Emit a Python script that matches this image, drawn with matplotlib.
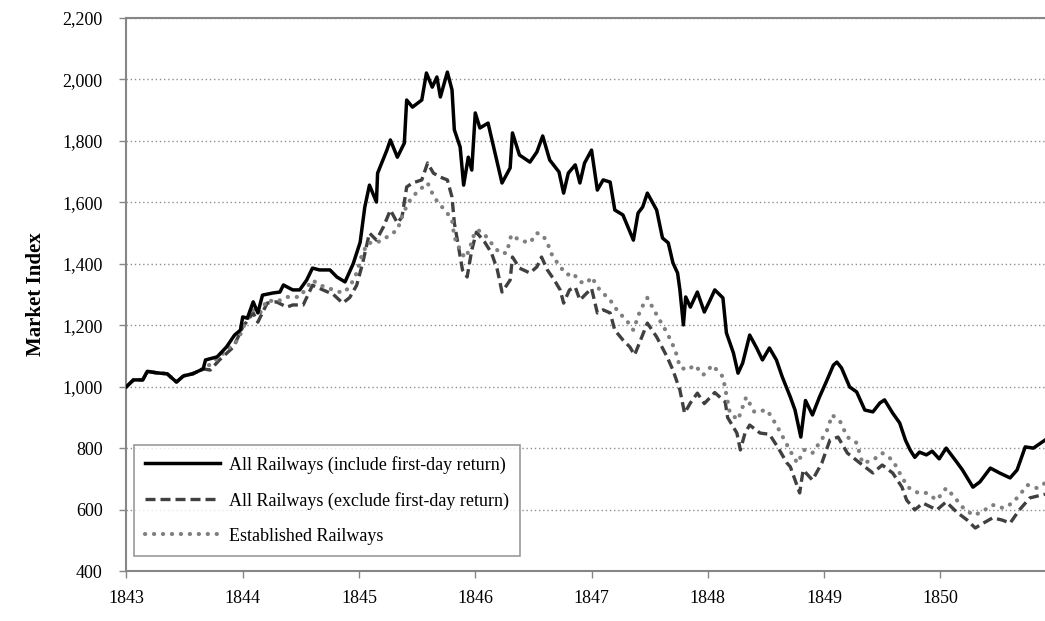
import matplotlib.pyplot as plt
from matplotlib.ticker import FuncFormatter

plt.rcParams['font.family'] = ['Liberation Serif', 'DejaVu Serif']

# common start (all three indices coincide at first)
start_years = [1843.00, 1843.06, 1843.14, 1843.18, 1843.26, 1843.35, 1843.43, 1843.49, 1843.57, 1843.66]
start_vals = [1000, 1022, 1022, 1050, 1045, 1042, 1015, 1035, 1042, 1058]

# All Railways (include first-day return)
incl_years = [1843.68, 1843.78, 1843.86, 1843.93, 1843.98, 1844.00, 1844.04, 1844.09, 1844.13, 1844.17,
              1844.26, 1844.32, 1844.35, 1844.43, 1844.49, 1844.55, 1844.60, 1844.66, 1844.75, 1844.81,
              1844.88, 1844.95, 1845.01, 1845.05, 1845.09, 1845.15, 1845.16, 1845.24, 1845.27, 1845.33,
              1845.39, 1845.41, 1845.46, 1845.54, 1845.58, 1845.63, 1845.67, 1845.70, 1845.76, 1845.80,
              1845.82, 1845.87, 1845.90, 1845.94, 1845.97, 1846.00, 1846.04, 1846.11, 1846.17, 1846.23,
              1846.30, 1846.32, 1846.38, 1846.47, 1846.53, 1846.58, 1846.64, 1846.72, 1846.76, 1846.80,
              1846.86, 1846.90, 1846.94, 1847.00, 1847.05, 1847.10, 1847.16, 1847.20, 1847.27, 1847.36,
              1847.40, 1847.44, 1847.48, 1847.56, 1847.61, 1847.66, 1847.70, 1847.74, 1847.76, 1847.79,
              1847.81, 1847.85, 1847.91, 1847.97, 1848.02, 1848.06, 1848.13, 1848.16, 1848.22, 1848.26,
              1848.30, 1848.36, 1848.42, 1848.47, 1848.53, 1848.59, 1848.64, 1848.71, 1848.75, 1848.80,
              1848.84, 1848.90, 1848.96, 1849.02, 1849.08, 1849.11, 1849.15, 1849.22, 1849.28, 1849.35,
              1849.42, 1849.48, 1849.52, 1849.59, 1849.65, 1849.70, 1849.74, 1849.78, 1849.82, 1849.88,
              1849.93, 1849.99, 1850.05, 1850.14, 1850.19, 1850.28, 1850.34, 1850.43, 1850.51, 1850.60,
              1850.66, 1850.73, 1850.80, 1850.90]
incl_vals = [1087, 1097, 1129, 1168, 1184, 1227, 1223, 1276, 1240, 1298,
             1305, 1308, 1331, 1315, 1315, 1347, 1386, 1380, 1380, 1357,
             1341, 1400, 1470, 1585, 1656, 1601, 1695, 1770, 1803, 1747,
             1793, 1933, 1910, 1933, 2021, 1975, 2008, 1943, 2024, 1966,
             1836, 1780, 1656, 1747, 1705, 1891, 1842, 1858, 1760, 1663,
             1712, 1826, 1754, 1731, 1764, 1816, 1738, 1699, 1630, 1695,
             1722, 1663, 1728, 1770, 1640, 1673, 1666, 1575, 1559, 1477,
             1565, 1585, 1630, 1575, 1484, 1468, 1403, 1370, 1315, 1201,
             1292, 1259, 1308, 1243, 1282, 1315, 1289, 1175, 1110, 1044,
             1077, 1168, 1126, 1087, 1126, 1087, 1032, 966, 924, 836,
             955, 908, 966, 1017, 1070, 1080, 1061, 999, 983, 924,
             918, 947, 957, 914, 882, 826, 794, 770, 787, 778,
             790, 765, 800, 755, 729, 673, 690, 735, 719, 703,
             729, 804, 800, 826]

# All Railways (exclude first-day return)
excl_years = [1843.72, 1843.80, 1843.92, 1844.00, 1844.09, 1844.13, 1844.21, 1844.29, 1844.38, 1844.43,
              1844.52, 1844.60, 1844.66, 1844.78, 1844.86, 1844.92, 1844.98, 1845.03, 1845.09, 1845.15,
              1845.21, 1845.27, 1845.33, 1845.37, 1845.41, 1845.46, 1845.54, 1845.59, 1845.64, 1845.70,
              1845.76, 1845.80, 1845.82, 1845.85, 1845.89, 1845.93, 1845.97, 1846.01, 1846.08, 1846.14,
              1846.19, 1846.23, 1846.30, 1846.32, 1846.38, 1846.47, 1846.53, 1846.57, 1846.62, 1846.68,
              1846.73, 1846.76, 1846.81, 1846.86, 1846.90, 1846.96, 1847.00, 1847.05, 1847.10, 1847.16,
              1847.20, 1847.27, 1847.33, 1847.37, 1847.42, 1847.48, 1847.56, 1847.65, 1847.70, 1847.76,
              1847.80, 1847.85, 1847.91, 1847.97, 1848.06, 1848.15, 1848.17, 1848.25, 1848.28, 1848.32,
              1848.36, 1848.45, 1848.53, 1848.60, 1848.68, 1848.71, 1848.79, 1848.82, 1848.90, 1848.98,
              1849.05, 1849.12, 1849.20, 1849.31, 1849.42, 1849.50, 1849.59, 1849.67, 1849.71, 1849.78,
              1849.85, 1849.97, 1850.05, 1850.14, 1850.23, 1850.30, 1850.37, 1850.45, 1850.53, 1850.60,
              1850.68, 1850.77, 1850.90]
excl_vals = [1054, 1087, 1129, 1194, 1240, 1210, 1272, 1276, 1259, 1266,
             1266, 1330, 1320, 1300, 1272, 1290, 1330, 1400, 1500, 1477,
             1520, 1575, 1533, 1552, 1650, 1663, 1673, 1728, 1695, 1682,
             1673, 1617, 1533, 1468, 1380, 1357, 1445, 1503, 1471, 1435,
             1380, 1308, 1347, 1422, 1386, 1370, 1390, 1422, 1380, 1347,
             1315, 1272, 1315, 1324, 1282, 1305, 1320, 1240, 1250, 1240,
             1184, 1152, 1129, 1103, 1150, 1207, 1162, 1097, 1054, 989,
             914, 947, 979, 945, 981, 950, 900, 849, 794, 849,
             875, 849, 845, 804, 752, 739, 654, 729, 696, 751,
             826, 836, 784, 751, 719, 745, 719, 673, 631, 599,
             621, 599, 625, 592, 566, 540, 556, 573, 566, 556,
             599, 638, 650]

# Established Railways
est_years = [1843.69, 1843.80, 1843.89, 1843.96, 1844.02, 1844.09, 1844.15, 1844.21, 1844.29, 1844.38,
             1844.49, 1844.60, 1844.66, 1844.78, 1844.86, 1844.92, 1844.98, 1845.03, 1845.08, 1845.15,
             1845.24, 1845.33, 1845.38, 1845.44, 1845.50, 1845.55, 1845.59, 1845.63, 1845.68, 1845.74,
             1845.80, 1845.82, 1845.87, 1845.91, 1845.95, 1845.98, 1846.02, 1846.07, 1846.13, 1846.21,
             1846.27, 1846.31, 1846.38, 1846.47, 1846.53, 1846.58, 1846.62, 1846.66, 1846.73, 1846.79,
             1846.84, 1846.90, 1846.96, 1847.00, 1847.07, 1847.16, 1847.23, 1847.30, 1847.36, 1847.42,
             1847.48, 1847.57, 1847.65, 1847.72, 1847.76, 1847.82, 1847.89, 1847.96, 1848.04, 1848.13,
             1848.19, 1848.26, 1848.33, 1848.40, 1848.51, 1848.59, 1848.64, 1848.71, 1848.77, 1848.83,
             1848.90, 1848.96, 1849.02, 1849.07, 1849.14, 1849.20, 1849.28, 1849.33, 1849.42, 1849.50,
             1849.59, 1849.65, 1849.72, 1849.81, 1849.88, 1849.97, 1850.05, 1850.12, 1850.19, 1850.28,
             1850.34, 1850.45, 1850.54, 1850.62, 1850.68, 1850.75, 1850.83, 1850.90]
est_vals = [1064, 1097, 1129, 1152, 1207, 1250, 1240, 1282, 1276, 1292,
            1292, 1347, 1331, 1315, 1305, 1324, 1370, 1435, 1468, 1468,
            1487, 1510, 1565, 1608, 1634, 1650, 1663, 1630, 1598, 1575,
            1543, 1487, 1445, 1419, 1445, 1487, 1510, 1500, 1471, 1435,
            1435, 1494, 1477, 1468, 1500, 1494, 1468, 1429, 1390, 1364,
            1370, 1341, 1337, 1357, 1315, 1282, 1243, 1217, 1184, 1250,
            1289, 1227, 1175, 1119, 1064, 1054, 1070, 1038, 1070, 1032,
            914, 892, 966, 918, 924, 875, 840, 790, 751, 794,
            784, 817, 852, 908, 885, 836, 817, 751, 761, 784,
            761, 719, 673, 654, 654, 631, 670, 641, 608, 582,
            589, 615, 605, 621, 647, 680, 670, 686]

year_ticks = [1843, 1844, 1845, 1846, 1847, 1848, 1849, 1850]
value_ticks = [400, 600, 800, 1000, 1200, 1400, 1600, 1800, 2000, 2200]

fig = plt.figure(figsize=(10.45, 6.21), dpi=100)
ax = fig.add_axes([0.121, 0.0805, 0.879, 0.8905])

ax.plot(start_years + incl_years, start_vals + incl_vals, color='black', lw=2.5,
        label='All Railways (include first-day return)', zorder=4)
ax.plot(start_years + excl_years, start_vals + excl_vals, color='#404040', lw=2.4,
        dashes=(3.0, 1.5), label='All Railways (exclude first-day return)', zorder=3)
ax.plot(start_years + est_years, start_vals + est_vals, color='#808080', lw=3.0,
        dashes=(0.05, 2.1), dash_capstyle='round', label='Established Railways', zorder=3)

ax.set_xlim(1843, 1850.9)
ax.set_ylim(400, 2200)
ax.set_xticks(year_ticks)
ax.set_yticks(value_ticks)
ax.yaxis.set_major_formatter(FuncFormatter(lambda v, p: f'{int(v):,}'))
ax.tick_params(axis='both', labelsize=13, color='#868686', direction='out', length=5, width=1)
ax.tick_params(axis='x', pad=9)
ax.tick_params(axis='y', pad=12)
ax.yaxis.grid(True, linestyle=(0, (1, 2)), color='#909090', lw=1)
ax.set_axisbelow(True)

for side in ['left', 'bottom', 'top']:
    ax.spines[side].set_color('#868686')
    ax.spines[side].set_linewidth(1.5)
ax.spines['right'].set_visible(False)

ax.set_ylabel('Market Index', fontsize=15, fontweight='bold', labelpad=12)

leg = ax.legend(loc='lower left', bbox_to_anchor=(0.008, 0.028), fontsize=13, frameon=True,
                fancybox=False, edgecolor='#808080', handlelength=4.2, handletextpad=0.5,
                borderpad=0.6, labelspacing=1.0, borderaxespad=0)
leg.get_frame().set_linewidth(1.2)

fig.savefig('out.png', dpi=100)
